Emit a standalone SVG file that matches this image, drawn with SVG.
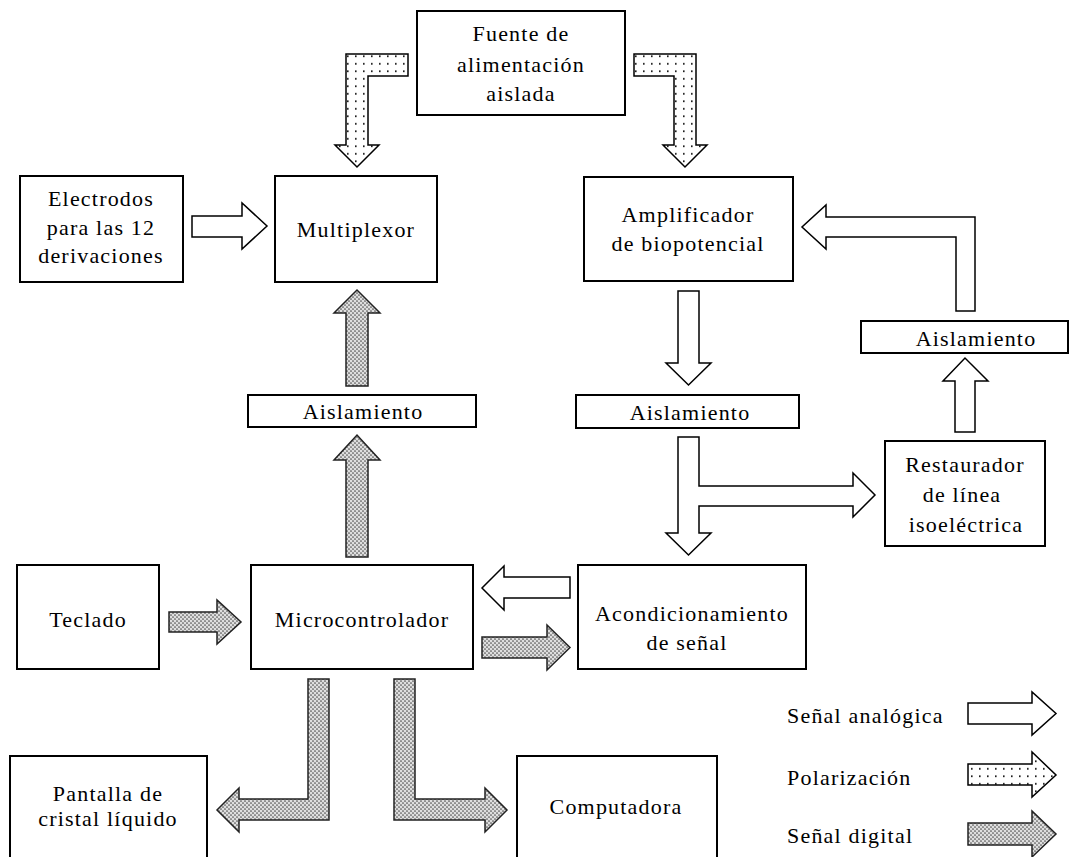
<svg xmlns="http://www.w3.org/2000/svg" width="1074" height="857" viewBox="0 0 1074 857">
<style>
.box{fill:#fff;stroke:#000;stroke-width:2}
text{font-family:'Liberation Serif','DejaVu Serif',serif;font-size:22px;letter-spacing:1.2px;fill:#000}
.t{text-anchor:middle}
.an{fill:#fff;stroke:#000;stroke-width:1.5;stroke-linejoin:miter}
.po{fill:url(#dots);stroke:#000;stroke-width:1.5}
.di{fill:url(#halftone);stroke:#222;stroke-width:1.5}
</style>
<defs>
<pattern id="dots" width="8" height="7.5" patternUnits="userSpaceOnUse">
<rect width="8" height="7.5" fill="#fff"/>
<rect x="3" y="3" width="1.6" height="1.6" fill="#000"/>
</pattern>
<pattern id="halftone" width="4" height="4" patternUnits="userSpaceOnUse">
<rect width="4" height="4" fill="#dedede"/>
<circle cx="1" cy="1" r="0.85" fill="#505050"/>
<circle cx="3" cy="3" r="0.85" fill="#505050"/>
</pattern>
</defs>
<rect width="1074" height="857" fill="#fff"/>

<g id="connectors">
<polygon class="po" points="408,54 346,54 346,145 335,145 357,167 379,145 368,145 368,76 408,76"/>
<polygon class="po" points="634,54 696,54 696,145 707,145 685,167 663,145 674,145 674,76 634,76"/>
<polygon class="an" points="192,216 242,216 242,203 267,226 242,249 242,237 192,237"/>
<polygon class="an" points="678,291 699,291 699,363 711,363 688.5,385 666,363 678,363"/>
<polygon class="an" points="678,437 699,437 699,486 853,486 853,473 875,495 853,517 853,506 699,506 699,533 711,533 688.5,555 666,533 678,533"/>
<polygon class="an" points="955,432 955,381 943,381 965,358 988,381 975,381 975,432"/>
<polygon class="an" points="975,311 975,217 826,217 826,205 802,227 826,249 826,237 956,237 956,311"/>
<polygon class="di" points="346,557 346,460 334,460 357,435 380,460 368,460 368,557"/>
<polygon class="di" points="346,386 346,313 334,313 357,290 380,313 368,313 368,386"/>
<polygon class="di" points="169,612 217,612 217,600 241,622 217,644 217,632 169,632"/>
<polygon class="an" points="570,577 504,577 504,566 482,588 504,610 504,598 570,598"/>
<polygon class="di" points="482,637 547,637 547,625 570,647.5 547,670 547,658 482,658"/>
<polygon class="di" points="308,679 329,679 329,820 239,820 239,832 217,810 239,788 239,799 308,799"/>
<polygon class="di" points="394,679 415,679 415,799 485,799 485,788 507,810 485,832 485,820 394,820"/>
</g>

<g id="fuente"><rect class="box" x="417" y="11" width="208" height="104"/>
<text class="t" x="521" y="41">Fuente de</text><text class="t" x="521" y="72">alimentación</text><text class="t" x="521" y="101">aislada</text></g>
<g id="electrodos"><rect class="box" x="20" y="176" width="163" height="106"/>
<text class="t" x="101" y="206">Electrodos</text><text class="t" x="101" y="235">para las 12</text><text class="t" x="101" y="263">derivaciones</text></g>
<g id="multiplexor"><rect class="box" x="275" y="176" width="162" height="106"/>
<text class="t" x="356" y="237">Multiplexor</text></g>
<g id="amplificador"><rect class="box" x="584" y="177" width="209" height="104"/>
<text class="t" x="688" y="222">Amplificador</text><text class="t" x="688" y="251">de biopotencial</text></g>
<g id="aislamiento-der"><rect class="box" x="861" y="321" width="207" height="32"/>
<text class="t" x="976" y="346">Aislamiento</text></g>
<g id="aislamiento-centro"><rect class="box" x="576" y="395" width="223" height="33"/>
<text class="t" x="690" y="420">Aislamiento</text></g>
<g id="aislamiento-izq"><rect class="box" x="248" y="395" width="228" height="32"/>
<text class="t" x="363" y="419">Aislamiento</text></g>
<g id="restaurador"><rect class="box" x="885" y="441" width="160" height="105"/>
<text class="t" x="965" y="472">Restaurador</text><text class="t" x="962" y="502">de línea</text><text class="t" x="966" y="532">isoeléctrica</text></g>
<g id="teclado"><rect class="box" x="17" y="565" width="142" height="104"/>
<text class="t" x="88" y="627">Teclado</text></g>
<g id="microcontrolador"><rect class="box" x="251" y="565" width="222" height="104"/>
<text class="t" x="362" y="627">Microcontrolador</text></g>
<g id="acondicionamiento"><rect class="box" x="578" y="565" width="228" height="104"/>
<text class="t" x="692" y="621">Acondicionamiento</text><text class="t" x="687" y="650">de señal</text></g>
<g id="pantalla"><path class="box" d="M10,870 V756 H207 V870"/>
<text class="t" x="108" y="801">Pantalla de</text><text class="t" x="108" y="826">cristal líquido</text></g>
<g id="computadora"><path class="box" d="M517,870 V756 H717 V870"/>
<text class="t" x="616" y="814">Computadora</text></g>

<g id="legend">
<text x="787" y="723">Señal analógica</text>
<polygon class="an" points="968,703 1032,703 1032,692 1056,713.5 1032,735 1032,724 968,724"/>
<text x="787" y="785">Polarización</text>
<polygon class="po" points="968,764 1032,764 1032,752 1056,775 1032,797 1032,785 968,785"/>
<text x="787" y="843">Señal digital</text>
<polygon class="di" points="968,823 1032,823 1032,811 1056,834 1032,857 1032,845 968,845"/>
</g>
</svg>
